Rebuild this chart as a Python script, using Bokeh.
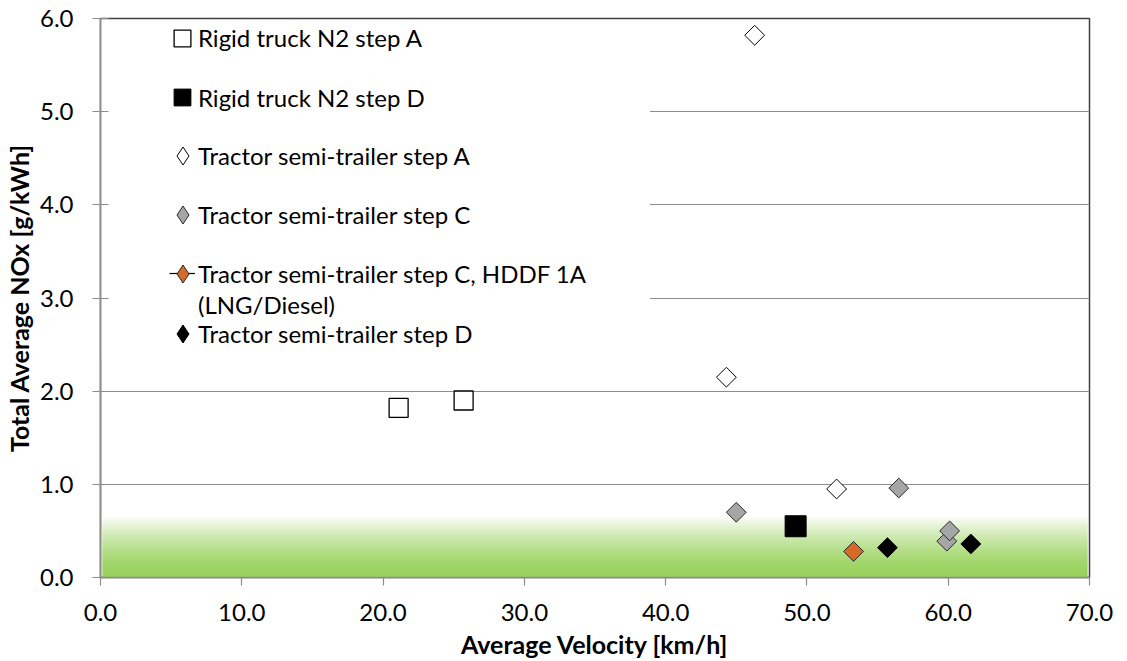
import numpy as np
from bokeh.plotting import figure
from bokeh.models import Range1d, FixedTicker, NumeralTickFormatter, Legend, LegendItem
from bokeh.embed import file_html
from bokeh.resources import INLINE

# ---------------- data ----------------
rigid_a_vel = [21.1, 25.7]
rigid_a_nox = [1.82, 1.90]
rigid_d_vel = [49.2]
rigid_d_nox = [0.55]
tractor_a_vel = [46.3, 44.3, 52.1]
tractor_a_nox = [5.82, 2.15, 0.95]
tractor_c_vel = [45.0, 56.5, 59.9, 60.1]
tractor_c_nox = [0.70, 0.96, 0.39, 0.50]
hddf_vel = [53.3]
hddf_nox = [0.28]
tractor_d_vel = [55.7, 61.6]
tractor_d_nox = [0.32, 0.36]

x_ticks = [0, 10, 20, 30, 40, 50, 60, 70]
y_ticks = [0, 1, 2, 3, 4, 5, 6]

labels = [
    "Rigid truck N2 step A",
    "Rigid truck N2 step D",
    "Tractor semi-trailer step A",
    "Tractor semi-trailer step C",
    "Tractor semi-trailer step C, HDDF 1A",
    "(LNG/Diesel)",
    "Tractor semi-trailer step D",
]

# limit band (green gradient) and legend panel extent
band_top = 0.67
legend_panel = dict(right=38.9, bottom=2.35, top=5.985)

FONT = "Lato"
GRID = "#8c8c8c"
FRAME_W, FRAME_H = 990, 559
X0, X1 = 0, 70
inset = 1.2 * (X1 - X0) / FRAME_W   # keep fills just inside the frame lines

p = figure(width=1127, height=661, x_range=Range1d(X0, X1), y_range=Range1d(0, 6),
           output_backend="svg", toolbar_location=None,
           min_border_left=99, min_border_right=38, min_border_top=18, min_border_bottom=84)
p.background_fill_color = "white"
p.border_fill_color = "white"
p.outline_line_color = "#404040"
p.outline_line_width = 1.5

# axes
p.xaxis.ticker = FixedTicker(ticks=x_ticks)
p.yaxis.ticker = FixedTicker(ticks=y_ticks)
p.xaxis.formatter = NumeralTickFormatter(format="0.0")
p.yaxis.formatter = NumeralTickFormatter(format="0.0")
for ax in (p.xaxis, p.yaxis):
    ax.axis_line_color = GRID
    ax.axis_line_width = 1.5
    ax.major_tick_line_color = GRID
    ax.major_tick_line_width = 1.2
    ax.minor_tick_line_color = None
    ax.major_label_text_font = FONT
    ax.major_label_text_font_size = "24px"
    ax.major_label_text_color = "black"
    ax.axis_label_text_font = FONT
    ax.axis_label_text_font_size = "25px"
    ax.axis_label_text_font_style = "bold"
    ax.axis_label_text_color = "black"
p.xaxis.major_tick_in = 0
p.xaxis.major_tick_out = 8
p.yaxis.major_tick_in = 8
p.yaxis.major_tick_out = 8
p.xaxis.major_label_standoff = 18
p.yaxis.major_label_standoff = 19
p.xaxis.axis_label = "Average Velocity [km/h]"
p.yaxis.axis_label = "Total Average NOx [g/kWh]"
p.xaxis.axis_label_standoff = 5
p.yaxis.axis_label_standoff = 3

p.xgrid.visible = False
p.ygrid.ticker = FixedTicker(ticks=y_ticks)
p.ygrid.grid_line_color = GRID
p.ygrid.grid_line_width = 1.2

# green gradient band (limit zone)
n_steps = 70
edges = np.linspace(0, band_top, n_steps + 1)
base = np.array([152, 210, 92])
cols = []
for i in range(n_steps):
    t = (i + 0.5) / n_steps
    m = t ** 1.6
    c = base + (255 - base) * m
    cols.append("#%02x%02x%02x" % tuple(int(round(v)) for v in c))
p.quad(left=X0 + 2 * inset, right=X1 - 2 * inset, bottom=edges[:-1], top=edges[1:],
       fill_color=cols, line_color=cols, line_width=1)

# white legend panel hiding the gridlines behind the legend
p.quad(left=[X0 + inset], right=[legend_panel["right"]],
       bottom=[legend_panel["bottom"]], top=[legend_panel["top"]],
       fill_color="white", line_color=None)

# series
r_ra = p.scatter(rigid_a_vel, rigid_a_nox, marker="square", size=19,
                 fill_color="white", line_color="black", line_width=1.3)
r_rd = p.scatter(rigid_d_vel, rigid_d_nox, marker="square", size=21,
                 fill_color="black", line_color="black", line_width=1)
r_ta = p.scatter(tractor_a_vel, tractor_a_nox, marker="square", angle=np.pi / 4, size=14,
                 fill_color="white", line_color="black", line_width=1)
r_tc = p.scatter(tractor_c_vel, tractor_c_nox, marker="square", angle=np.pi / 4, size=14,
                 fill_color="#a6a6a6", line_color="#262626", line_width=1)
r_hl = p.line(hddf_vel, hddf_nox, line_color="black", line_width=1.2)
r_h = p.scatter(hddf_vel, hddf_nox, marker="square", angle=np.pi / 4, size=14,
                fill_color="#d46b2a", line_color="#262626", line_width=1)
r_td = p.scatter(tractor_d_vel, tractor_d_nox, marker="square", angle=np.pi / 4, size=14,
                 fill_color="black", line_color="black", line_width=1)


# legend swatches for the diamond series: hidden twins of the series drawn with the
# diamond marker (legend markers are drawn unrotated)
def diamond_swatch(xs, ys, fill, line):
    return p.scatter(xs, ys, marker="diamond", fill_color=fill,
                     line_color=line, line_width=1, visible=False)


sw_ta = diamond_swatch(tractor_a_vel, tractor_a_nox, "white", "black")
sw_tc = diamond_swatch(tractor_c_vel, tractor_c_nox, "#a6a6a6", "#262626")
sw_h = diamond_swatch(hddf_vel, hddf_nox, "#d46b2a", "#262626")
sw_td = diamond_swatch(tractor_d_vel, tractor_d_nox, "black", "black")

# legend layout: one row per entry (row centres in px from the top of the frame)
TEXT_BOX = 40
SQ_BOX = 42
DM_BOX = 45
text_left = 98          # px from frame left where the entry texts start
swatch_cx = 82          # px from frame left (centre of the symbols)
row_centres = [19.7, 79.3, 137.5, 196.7, 255.3, 286.5, 315.5]
row_swatches = [([r_ra], SQ_BOX), ([r_rd], SQ_BOX), ([sw_ta], DM_BOX), ([sw_tc], DM_BOX),
                ([], 0), ([], 0), ([sw_td], DM_BOX)]


def add_legend(label, renderers, cy, glyph_w, glyph_h, left):
    lg = Legend(items=[LegendItem(label=label, renderers=renderers)],
                location=(left, FRAME_H - (cy + glyph_h / 2)),
                orientation="vertical",
                glyph_width=int(glyph_w), glyph_height=int(glyph_h),
                label_height=int(glyph_h),
                spacing=0, label_standoff=0, padding=0, margin=0,
                background_fill_alpha=0, border_line_alpha=0,
                label_text_font=FONT, label_text_font_size="24px",
                label_text_color="black")
    p.add_layout(lg)


for (rends, box), cy in zip(row_swatches, row_centres):
    if rends:
        add_legend("", rends, cy, box, box, swatch_cx - box / 2)
# short connecting line of the HDDF entry, then its marker
add_legend("", [r_hl], row_centres[4], 26, TEXT_BOX, swatch_cx - 13)
add_legend("", [sw_h], row_centres[4], DM_BOX, DM_BOX, swatch_cx - DM_BOX / 2)
# entry texts
for lab, cy in zip(labels, row_centres):
    add_legend(lab, [], cy, TEXT_BOX, TEXT_BOX, text_left - TEXT_BOX)

open("out.html", "w").write(file_html(p, INLINE))
